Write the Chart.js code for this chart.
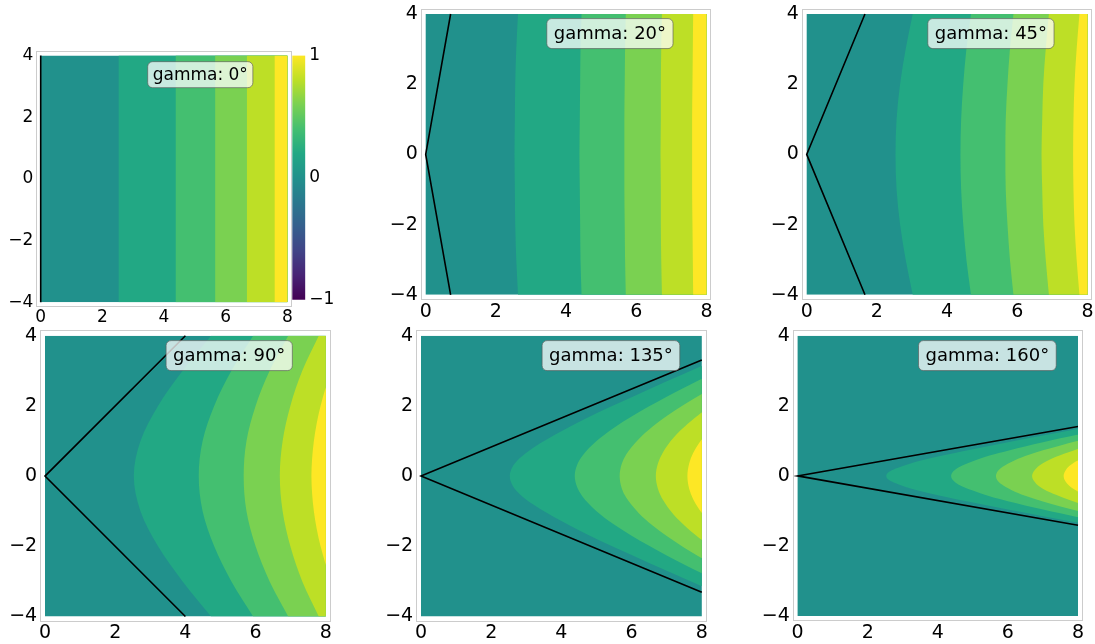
<!DOCTYPE html>
<html>
<head>
<meta charset="utf-8">
<script src="https://cdn.jsdelivr.net/npm/chart.js@4.4.1/dist/chart.umd.min.js"></script>
<style>
  html, body { margin: 0; padding: 0; background: #ffffff; }
  body { width: 1095px; height: 644px; position: relative; overflow: hidden; }
  canvas { position: absolute; }
</style>
</head>
<body>
<script>
// ---- data -------------------------------------------------------------
const gammaDegrees = [0, 20, 45, 90, 135, 160];
const xTicks = [0, 2, 4, 6, 8];
const yTicks = [-4, -2, 0, 2, 4];
const colorbarTicks = [-1, 0, 1];
const colorbarRange = [-1, 1];
const yExtent = [4, -4];
const xFillEdge = 8;

// rows at which the contour positions are listed (top to bottom)
const rowsY = [4, 3, 2, 1, 0, -1, -2, -3, -4];

// gamma 0: straight contour lines (x position of levels 0.1 .. 0.9)
const g0Levels = [2.53, 4.38, 5.66, 6.69, 7.59];

// gamma 20: x of each contour at rowsY
const g20Level01 = [2.63, 2.58, 2.55, 2.54, 2.53, 2.54, 2.55, 2.58, 2.63];
const g20Level03 = [4.44, 4.41, 4.40, 4.39, 4.38, 4.39, 4.40, 4.41, 4.44];
const g20Level05 = [5.70, 5.68, 5.67, 5.66, 5.66, 5.66, 5.67, 5.68, 5.70];
const g20Level07 = [6.73, 6.71, 6.70, 6.70, 6.69, 6.70, 6.70, 6.71, 6.73];
const g20Level09 = [7.62, 7.61, 7.60, 7.59, 7.59, 7.59, 7.60, 7.61, 7.62];

// gamma 45
const g45Level01 = [3.02, 2.82, 2.66, 2.56, 2.53, 2.56, 2.66, 2.82, 3.02];
const g45Level03 = [4.68, 4.55, 4.46, 4.40, 4.38, 4.40, 4.46, 4.55, 4.68];
const g45Level05 = [5.89, 5.79, 5.72, 5.67, 5.66, 5.67, 5.72, 5.79, 5.89];
const g45Level07 = [6.90, 6.81, 6.74, 6.71, 6.69, 6.71, 6.74, 6.81, 6.90];
const g45Level09 = [7.77, 7.69, 7.63, 7.60, 7.59, 7.60, 7.63, 7.69, 7.77];

// gamma 90
const g90Level01 = [4.73, 3.92, 3.22, 2.72, 2.53, 2.72, 3.22, 3.92, 4.73];
const g90Level03 = [5.93, 5.31, 4.82, 4.49, 4.38, 4.49, 4.82, 5.31, 5.93];
const g90Level05 = [6.93, 6.40, 6.00, 5.74, 5.66, 5.74, 6.00, 6.40, 6.93];
const g90Level07 = [7.80, 7.33, 6.99, 6.77, 6.69, 6.77, 6.99, 7.33, 7.80];
const g90Level09 = [[8, 2.53], [7.85, 2], [7.74, 1.5], [7.66, 1], [7.61, 0.5], [7.59, 0],
                    [7.61, -0.5], [7.66, -1], [7.74, -1.5], [7.85, -2], [8, -2.53]];

// gamma 135: [x, y] along each contour
const g135Level01 = [[8, 3.14], [7, 2.70], [6, 2.25], [5, 1.79], [4, 1.28], [3.2, 0.81], [2.8, 0.50], [2.6, 0.25], [2.53, 0],
                     [2.6, -0.25], [2.8, -0.50], [3.2, -0.81], [4, -1.28], [5, -1.79], [6, -2.25], [7, -2.70], [8, -3.14]];
const g135Level03 = [[8, 2.77], [7, 2.26], [6, 1.70], [5.5, 1.38], [5, 1.00], [4.6, 0.58], [4.45, 0.32], [4.38, 0],
                     [4.45, -0.32], [4.6, -0.58], [5, -1.00], [5.5, -1.38], [6, -1.70], [7, -2.26], [8, -2.77]];
const g135Level05 = [[8, 2.34], [7.5, 2.04], [7, 1.71], [6.6, 1.41], [6.2, 1.05], [5.85, 0.62], [5.72, 0.35], [5.66, 0],
                     [5.72, -0.35], [5.85, -0.62], [6.2, -1.05], [6.6, -1.41], [7, -1.71], [7.5, -2.04], [8, -2.34]];
const g135Level07 = [[8, 1.82], [7.6, 1.49], [7.2, 1.10], [6.9, 0.69], [6.75, 0.36], [6.69, 0],
                     [6.75, -0.36], [6.9, -0.69], [7.2, -1.10], [7.6, -1.49], [8, -1.82]];
const g135Level09 = [[8, 1.05], [7.9, 0.91], [7.75, 0.65], [7.64, 0.36], [7.59, 0],
                     [7.64, -0.36], [7.75, -0.65], [7.9, -0.91], [8, -1.05]];

// gamma 160
const g160Level01 = [[8, 1.34], [7, 1.15], [6, 0.96], [5, 0.76], [4, 0.55], [3.2, 0.35], [2.8, 0.21], [2.6, 0.11], [2.53, 0],
                     [2.6, -0.11], [2.8, -0.21], [3.2, -0.35], [4, -0.55], [5, -0.76], [6, -0.96], [7, -1.15], [8, -1.34]];
const g160Level03 = [[8, 1.18], [7, 0.96], [6, 0.72], [5.5, 0.59], [5, 0.42], [4.6, 0.25], [4.45, 0.14], [4.38, 0],
                     [4.45, -0.14], [4.6, -0.25], [5, -0.42], [5.5, -0.59], [6, -0.72], [7, -0.96], [8, -1.18]];
const g160Level05 = [[8, 1.00], [7.5, 0.87], [7, 0.73], [6.6, 0.60], [6.2, 0.45], [5.85, 0.26], [5.72, 0.15], [5.66, 0],
                     [5.72, -0.15], [5.85, -0.26], [6.2, -0.45], [6.6, -0.60], [7, -0.73], [7.5, -0.87], [8, -1.00]];
const g160Level07 = [[8, 0.77], [7.6, 0.63], [7.2, 0.47], [6.9, 0.30], [6.75, 0.15], [6.69, 0],
                     [6.75, -0.15], [6.9, -0.30], [7.2, -0.47], [7.6, -0.63], [8, -0.77]];
const g160Level09 = [[8, 0.45], [7.9, 0.39], [7.75, 0.28], [7.64, 0.15], [7.59, 0],
                     [7.64, -0.15], [7.75, -0.28], [7.9, -0.39], [8, -0.45]];

// wedge walls
const wedge0   = [[0, 4], [0, -4]];
const wedge20  = [[0.71, 4], [0, 0], [0.71, -4]];
const wedge45  = [[1.66, 4], [0, 0], [1.66, -4]];
const wedge90  = [[4, 4], [0, 0], [4, -4]];
const wedge135 = [[8, 3.31], [0, 0], [8, -3.31]];
const wedge160 = [[8, 1.41], [0, 0], [8, -1.41]];

// ---- styles -----------------------------------------------------------
const baseColor = '#21918c';
const bandColors = ['#22a884', '#44bf70', '#7ad151', '#bddf26', '#fde725'];
const viridisStops = ['#440154', '#482475', '#414487', '#355f8d', '#2a788e', '#21918c',
                      '#22a884', '#44bf70', '#7ad151', '#bddf26', '#fde725'];
const FONT = '"DejaVu Sans", "Liberation Sans", sans-serif';
Chart.defaults.font.family = FONT;
Chart.defaults.color = '#000000';

// placement of each panel: pixel of x=0, pixel of y=4, pixels per unit
const panelLayout = [
  { x0: 40.7,  y4: 55.5,  ppu: 30.83, tick: 17, note: 17, noteH: 26, padX: 5, noteX: 3.47, noteY: 3.80 },
  { x0: 425.7, y4: 14.0,  ppu: 35.1,  tick: 19, note: 18, noteH: 30, padX: 7, noteX: 3.45, noteY: 3.87 },
  { x0: 806.7, y4: 14.0,  ppu: 35.1,  tick: 19, note: 18, noteH: 30, padX: 7, noteX: 3.45, noteY: 3.87 },
  { x0: 45.0,  y4: 335.7, ppu: 35.1,  tick: 19, note: 18, noteH: 30, padX: 7, noteX: 3.45, noteY: 3.86 },
  { x0: 421.0, y4: 335.7, ppu: 35.1,  tick: 19, note: 18, noteH: 30, padX: 7, noteX: 3.45, noteY: 3.86 },
  { x0: 797.6, y4: 335.7, ppu: 35.05, tick: 19, note: 18, noteH: 30, padX: 7, noteX: 3.45, noteY: 3.86 }
];

// ---- helpers ----------------------------------------------------------
const fromRows = xs => rowsY.map((y, i) => ({ x: xs[i], y: y }));
const fromPairs = list => list.map(p => ({ x: p[0], y: p[1] }));
const fromVertical = x => yExtent.map(y => ({ x: x, y: y }));
const fmt = v => (v < 0 ? '\u2212' + Math.abs(v) : String(v));

const panelContours = [
  g0Levels.map(fromVertical),
  [g20Level01, g20Level03, g20Level05, g20Level07, g20Level09].map(fromRows),
  [g45Level01, g45Level03, g45Level05, g45Level07, g45Level09].map(fromRows),
  [g90Level01, g90Level03, g90Level05, g90Level07].map(fromRows).concat([fromPairs(g90Level09)]),
  [g135Level01, g135Level03, g135Level05, g135Level07, g135Level09].map(fromPairs),
  [g160Level01, g160Level03, g160Level05, g160Level07, g160Level09].map(fromPairs)
];
const panelWedges = [wedge0, wedge20, wedge45, wedge90, wedge135, wedge160].map(fromPairs);

// light grey frame around each axes box
const framePlugin = {
  id: 'axesFrame',
  afterDraw(chart) {
    const a = chart.chartArea, ctx = chart.ctx;
    ctx.save();
    ctx.strokeStyle = '#cccccc';
    ctx.lineWidth = 1;
    const l = Math.round(a.left) - 0.5, t = Math.round(a.top) - 0.5;
    const r = Math.round(a.right) + 0.5, b = Math.round(a.bottom) + 0.5;
    ctx.strokeRect(l, t, r - l, b - t);
    ctx.restore();
  }
};

// rounded label box in the upper right part of each panel
const notePlugin = {
  id: 'gammaNote',
  afterDatasetsDraw(chart, args, o) {
    const ctx = chart.ctx, xs = chart.scales.x, ys = chart.scales.y;
    const left = xs.getPixelForValue(o.x);
    const top = ys.getPixelForValue(o.y);
    ctx.save();
    ctx.font = o.size + 'px ' + FONT;
    const w = ctx.measureText(o.text).width + 2 * o.padX;
    ctx.beginPath();
    ctx.roundRect(left, top, w, o.h, 5);
    ctx.fillStyle = 'rgba(255,255,255,0.75)';
    ctx.fill();
    ctx.strokeStyle = 'rgba(90,90,90,0.65)';
    ctx.lineWidth = 1;
    ctx.stroke();
    ctx.fillStyle = '#000000';
    ctx.textAlign = 'left';
    ctx.textBaseline = 'middle';
    ctx.fillText(o.text, left + o.padX, top + o.h / 2 + 1);
    ctx.restore();
  }
};

function addCanvas(left, top, w, h) {
  const c = document.createElement('canvas');
  c.width = w; c.height = h;
  c.style.left = left + 'px'; c.style.top = top + 'px';
  c.style.width = w + 'px'; c.style.height = h + 'px';
  document.body.appendChild(c);
  return c;
}

// ---- contour panels -----------------------------------------------------
const XM = 0.11, YM = 0.125;
panelLayout.forEach((p, k) => {
  const areaLeft = p.x0 - XM * p.ppu;
  const areaTop = p.y4 - YM * p.ppu;
  const areaW = (8 + 2 * XM) * p.ppu;
  const areaH = (8 + 2 * YM) * p.ppu;
  const cLeft = Math.floor(areaLeft - 50);
  const cTop = Math.floor(areaTop - 16);
  const yw = areaLeft - cLeft;
  const pt = areaTop - cTop;
  const cw = Math.ceil(yw + areaW + 16);
  const ch = Math.ceil(pt + areaH + 32);
  const pr = cw - yw - areaW;
  const xh = ch - pt - areaH;

  const datasets = [];
  datasets.push({
    data: panelWedges[k], borderColor: '#000000', borderWidth: 1.6,
    pointRadius: 0, fill: false, tension: 0, order: 0
  });
  panelContours[k].forEach((pts, j) => {
    datasets.push({
      data: pts, borderWidth: 0, pointRadius: 0,
      backgroundColor: bandColors[j], fill: { value: xFillEdge },
      cubicInterpolationMode: 'monotone', order: 5 - j
    });
  });
  datasets.push({
    data: fromVertical(0), borderWidth: 0, pointRadius: 0,
    backgroundColor: baseColor, fill: { value: xFillEdge }, order: 10
  });

  const canvas = addCanvas(cLeft, cTop, cw, ch);
  new Chart(canvas, {
    type: 'line',
    data: { datasets: datasets },
    options: {
      indexAxis: 'y',
      responsive: false,
      animation: false,
      devicePixelRatio: 1,
      layout: { padding: { left: 0, top: pt, right: pr, bottom: 0 } },
      scales: {
        x: {
          type: 'linear', min: -XM, max: 8 + XM,
          grid: { display: false, drawTicks: false }, border: { display: false },
          ticks: { font: { size: p.tick }, padding: 1, maxRotation: 0, callback: v => fmt(v) },
          afterBuildTicks: s => { s.ticks = xTicks.map(v => ({ value: v })); },
          afterFit: s => { s.height = xh; }
        },
        y: {
          type: 'linear', min: -4 - YM, max: 4 + YM,
          grid: { display: false, drawTicks: false }, border: { display: false },
          ticks: { font: { size: p.tick }, padding: 4, callback: v => fmt(v) },
          afterBuildTicks: s => { s.ticks = yTicks.map(v => ({ value: v })); },
          afterFit: s => { s.width = yw; }
        }
      },
      plugins: {
        legend: { display: false },
        tooltip: { enabled: false },
        gammaNote: {
          text: 'gamma: ' + gammaDegrees[k] + '\u00b0',
          x: p.noteX, y: p.noteY, size: p.note, h: p.noteH, padX: p.padX
        }
      }
    },
    plugins: [framePlugin, notePlugin]
  });
});

// ---- colour bar beside the first panel -----------------------------------
(function () {
  const barLeft = 292.3, barTop = 55.5, barW = 13, barH = 246.5;
  const cLeft = 292, cTop = 41;
  const pt = barTop - cTop;
  const axisW = 40;
  const cw = 56, ch = Math.ceil(pt + barH + 12);
  const canvas = addCanvas(cLeft, cTop, cw, ch);
  new Chart(canvas, {
    type: 'bar',
    data: {
      labels: [''],
      datasets: [{
        data: [colorbarRange],
        borderWidth: 0,
        barPercentage: 1,
        categoryPercentage: 1,
        backgroundColor: (c) => {
          const a = c.chart.chartArea;
          if (!a) return viridisStops[5];
          const g = c.chart.ctx.createLinearGradient(0, a.bottom, 0, a.top);
          viridisStops.forEach((col, i) => g.addColorStop(i / (viridisStops.length - 1), col));
          return g;
        }
      }]
    },
    options: {
      responsive: false,
      animation: false,
      devicePixelRatio: 1,
      layout: { padding: { left: barLeft - cLeft, top: pt, right: cw - (barLeft - cLeft) - barW - axisW, bottom: ch - pt - barH } },
      scales: {
        x: { display: false },
        y: {
          position: 'right', min: colorbarRange[0], max: colorbarRange[1],
          grid: { display: false, drawTicks: false }, border: { display: false },
          ticks: { font: { size: 17 }, padding: 4, callback: v => fmt(v) },
          afterBuildTicks: s => { s.ticks = colorbarTicks.map(v => ({ value: v })); },
          afterFit: s => { s.width = axisW; }
        }
      },
      plugins: { legend: { display: false }, tooltip: { enabled: false } }
    }
  });
})();
</script>
</body>
</html>
